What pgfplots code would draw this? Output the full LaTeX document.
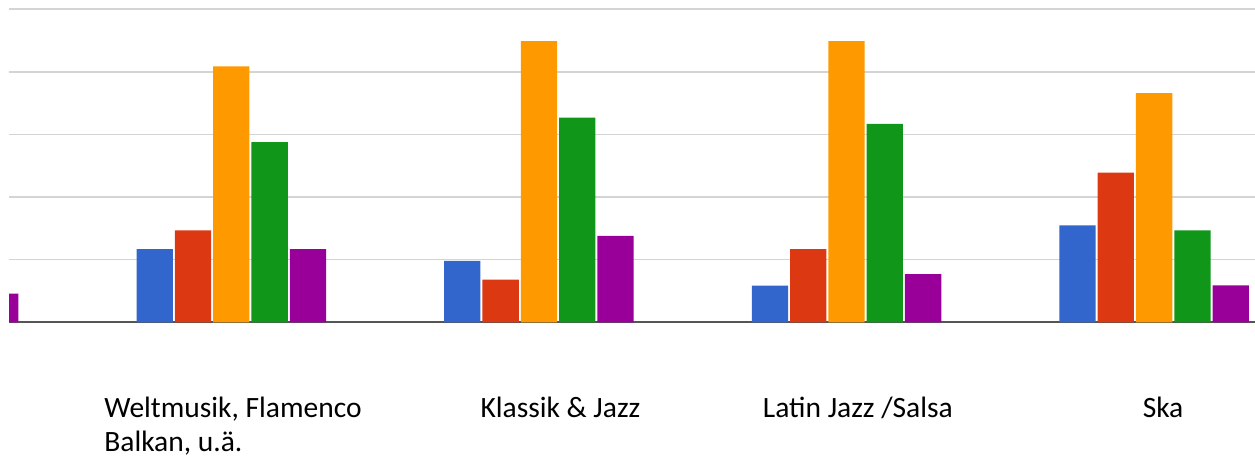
\documentclass[border=0pt]{standalone}
\usepackage{fontspec}
\setmainfont{Carlito}
\usepackage{pgfplots}
\pgfplotsset{compat=1.18}
\usepackage{pgfplotstable}

\definecolor{cblue}{HTML}{3366CC}
\definecolor{cred}{HTML}{DC3912}
\definecolor{corange}{HTML}{FF9900}
\definecolor{cgreen}{HTML}{109618}
\definecolor{cpurple}{HTML}{990099}
\definecolor{gridgray}{HTML}{D4D4D4}
\definecolor{basegray}{HTML}{555555}

% group 0 is the cut-off group at the left edge, only its last bar shows
\pgfplotstableread{
x  blue  red   orange green purple
0  nan   nan   nan    nan   4.6
1  11.7  14.7  40.9   28.8  11.7
2  9.8   6.8   44.9   32.7  13.8
3  5.85  11.7  44.9   31.7  7.7
4  15.5  23.9  36.6   14.7  5.9
}\genres

\begin{document}
\begin{tikzpicture}
\useasboundingbox (0,0) rectangle (1255bp,461bp);
\begin{axis}[
  at={(9bp,138.7bp)}, anchor=south west,
  scale only axis, width=1246bp, height=313bp,
  xmin=0.2773, xmax=4.328, ymin=0, ymax=50,
  ybar=2bp, bar width=36.3bp,
  axis line style={draw=none},
  major tick length=0pt,
  ytick={10,20,30,40,50}, yticklabels={},
  ymajorgrids, grid style={gridgray, line width=1.6bp},
  extra y ticks={0}, extra y tick labels={},
  extra y tick style={grid style={basegray, line width=1.8bp}},
  xtick={1.0055,2.070,3.037,4.029},
  xticklabels={{Weltmusik, Flamenco\\Balkan, u.ä.},{Klassik \& Jazz},{Latin Jazz /Salsa},{Ska}},
  xticklabel style={anchor=north, inner sep=0pt, yshift=-75bp, align=left,
    font=\fontsize{29.5bp}{34bp}\selectfont, text=black},
  every axis plot/.append style={draw=none},
]
\addplot[fill=cblue] table[x=x, y=blue] {\genres};
\addplot[fill=cred] table[x=x, y=red] {\genres};
\addplot[fill=corange] table[x=x, y=orange] {\genres};
\addplot[fill=cgreen] table[x=x, y=green] {\genres};
\addplot[fill=cpurple] table[x=x, y=purple] {\genres};
\end{axis}
\end{tikzpicture}
\end{document}
